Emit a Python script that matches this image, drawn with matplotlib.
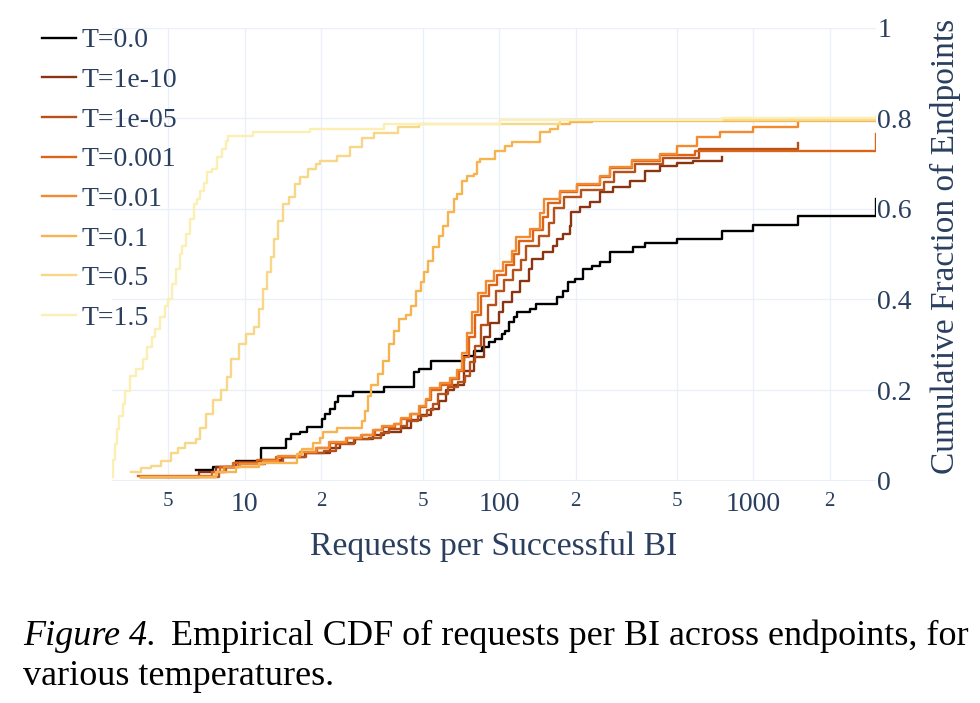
import matplotlib
matplotlib.use("Agg")
import matplotlib.pyplot as plt

plt.rcParams["font.family"] = ["Liberation Serif", "DejaVu Serif"]

# series labels and colours (dark -> light)
labels = ["T=0.0", "T=1e-10", "T=1e-05", "T=0.001", "T=0.01", "T=0.1", "T=0.5", "T=1.5"]
colors = ["#000000", "#8b3412", "#b5511a", "#dc6419", "#f28a30", "#f6b34f", "#f8d888", "#fcefb4"]

# empirical CDF step points (x = requests, y = fraction)
t0_x = [6.44, 7.52, 9.21, 11.58, 14.57, 15.25, 16.41, 17.50, 20.09, 20.6, 21.61, 22.63, 23.26, 26.69, 35.1,
        46.28, 48.44, 54.1, 72.5, 79.5, 85.6, 91.2, 96.4, 102.8, 105.7, 109.6, 114.8, 117.9, 132.9, 139.1,
        169, 179, 187, 199, 214, 232, 250, 273, 337, 376, 502, 755, 1000, 1504, 3040]
t0_y = [0.024, 0.031, 0.044, 0.073, 0.091, 0.102, 0.108, 0.119, 0.135, 0.146, 0.157, 0.173, 0.186, 0.195, 0.206,
        0.239, 0.246, 0.263, 0.274, 0.285, 0.296, 0.305, 0.312, 0.323, 0.330, 0.350, 0.361, 0.372, 0.378, 0.389,
        0.405, 0.418, 0.438, 0.445, 0.467, 0.473, 0.482, 0.504, 0.515, 0.524, 0.533, 0.551, 0.564, 0.584, 0.622]

t1e10_x = [3.9, 6.6, 7.7, 9.2, 11.6, 14.0, 17.2, 21.6, 23.7, 27.2, 31.8, 35.1, 41.1, 45.0, 49.3,
           54.1, 58.2, 62.1, 66.2, 72.5, 79.5, 87.2, 92.1, 100, 103.7, 112.7, 121.2, 131.7, 134.2, 148.4,
           162.6, 169, 179, 190, 192, 208, 228, 250, 281, 328, 376, 430, 502, 580, 755]
t1e10_y = [0.009, 0.020, 0.029, 0.040, 0.046, 0.053, 0.060, 0.071, 0.082, 0.091, 0.100, 0.108, 0.117, 0.133, 0.144,
           0.159, 0.175, 0.201, 0.210, 0.241, 0.272, 0.316, 0.347, 0.372, 0.394, 0.416, 0.440, 0.467, 0.489, 0.504,
           0.518, 0.533, 0.544, 0.562, 0.593, 0.604, 0.615, 0.637, 0.648, 0.662, 0.684, 0.695, 0.701, 0.706, 0.715]

t1e5_x = [3.9, 7.9, 8.4, 9.5, 12.0, 14.1, 17.4, 20.4, 22.9, 26.8, 30.8, 34.3, 37.0, 41.3, 43.6,
          47.8, 51.9, 54.9, 57.4, 62.9, 69.0, 73.5, 77.0, 80.7, 85.2, 90.1, 96.9, 104.2, 113.2, 121.8,
          127.6, 143.7, 157.5, 165.0, 180, 210, 258, 283, 343, 440, 610, 1504]
t1e5_y = [0.009, 0.020, 0.031, 0.036, 0.042, 0.053, 0.060, 0.066, 0.080, 0.091, 0.095, 0.104, 0.115, 0.120, 0.131,
          0.142, 0.155, 0.170, 0.192, 0.206, 0.217, 0.232, 0.261, 0.298, 0.343, 0.387, 0.418, 0.442, 0.465, 0.487,
          0.518, 0.540, 0.568, 0.602, 0.626, 0.642, 0.659, 0.681, 0.699, 0.713, 0.731, 0.745]

t1e3_x = [3.8, 7.4, 8.0, 9.0, 11.2, 13.3, 16.4, 19.2, 21.7, 25.2, 29.0, 32.4, 34.8, 38.9, 41.1,
          45.0, 48.9, 51.7, 54.1, 59.3, 65.0, 69.3, 72.6, 76.0, 80.3, 84.9, 91.3, 98.2, 106.7, 114.8,
          120.2, 135.4, 148.4, 155.4, 174, 203, 250, 273, 334, 430, 591, 3040]
t1e3_y = [0.011, 0.018, 0.029, 0.038, 0.046, 0.053, 0.064, 0.071, 0.084, 0.095, 0.100, 0.111, 0.119, 0.126, 0.137,
          0.146, 0.162, 0.179, 0.199, 0.212, 0.225, 0.241, 0.272, 0.316, 0.365, 0.407, 0.431, 0.454, 0.476, 0.500,
          0.529, 0.553, 0.582, 0.613, 0.637, 0.653, 0.670, 0.690, 0.706, 0.719, 0.728, 0.765]

t1e2_x = [3.9, 7.7, 8.3, 9.6, 11.9, 13.5, 16.4, 19.0, 21.5, 25.0, 28.7, 32.0, 34.5, 38.5, 41.0,
          44.5, 48.5, 51.5, 53.5, 58.5, 64.0, 68.0, 71.5, 74.5, 78.0, 82.5, 89.0, 95.5, 104, 112,
          117, 132, 145, 150, 174, 203, 250, 273, 334, 430, 502, 602, 742, 1000, 1504]
t1e2_y = [0.007, 0.018, 0.029, 0.036, 0.044, 0.055, 0.064, 0.071, 0.086, 0.095, 0.100, 0.111, 0.120, 0.126, 0.139,
          0.148, 0.164, 0.181, 0.205, 0.216, 0.226, 0.245, 0.282, 0.325, 0.372, 0.414, 0.441, 0.462, 0.482, 0.506,
          0.538, 0.556, 0.590, 0.621, 0.640, 0.655, 0.672, 0.692, 0.708, 0.722, 0.739, 0.759, 0.770, 0.781, 0.797]

t01_x = [3.9, 7.7, 9.2, 11.4, 16.0, 16.7, 18.5, 19.7, 20.3, 23.1, 29.0, 29.8, 30.6, 31.2, 33.3,
         34.8, 36.8, 38.5, 40.3, 43.0, 45.0, 47.1, 49.3, 50.7, 52.6, 55.1, 58.2, 60.4, 63.2, 66.2,
         68.0, 71.2, 74.6, 79.5, 81.8, 84.1, 96.4, 105.7, 112.7, 145, 158.8, 170.7, 190.3, 232, 3040]
t01_y = [0.009, 0.018, 0.029, 0.038, 0.058, 0.069, 0.084, 0.095, 0.108, 0.117, 0.131, 0.153, 0.186, 0.212, 0.235,
         0.263, 0.301, 0.330, 0.356, 0.365, 0.385, 0.418, 0.438, 0.460, 0.485, 0.515, 0.540, 0.562, 0.593, 0.622,
         0.633, 0.662, 0.673, 0.677, 0.704, 0.710, 0.728, 0.739, 0.748, 0.770, 0.777, 0.788, 0.792, 0.794, 0.796]

t05_x = [3.55, 3.89, 4.26, 4.67, 5.12, 5.46, 5.82, 6.44, 6.68, 7.06, 7.46, 8.03, 8.48, 8.80, 9.46,
         10.09, 10.86, 11.37, 11.80, 12.24, 12.69, 13.05, 13.54, 14.17, 14.97, 15.68, 16.41, 17.66, 19.0, 19.72,
         23.05, 25.96, 28.99, 32.06, 39.97, 48.44, 174, 3040]
t05_y = [0.018, 0.027, 0.033, 0.044, 0.060, 0.071, 0.082, 0.091, 0.117, 0.146, 0.179, 0.201, 0.228, 0.268, 0.301,
         0.323, 0.338, 0.378, 0.423, 0.460, 0.493, 0.533, 0.573, 0.611, 0.626, 0.655, 0.670, 0.688, 0.699, 0.706,
         0.717, 0.737, 0.757, 0.768, 0.781, 0.788, 0.796, 0.801]

t15_x = [3.0, 3.03, 3.08, 3.15, 3.21, 3.3, 3.39, 3.52, 3.72, 3.96, 4.12, 4.3, 4.42, 4.62, 4.84,
         4.97, 5.16, 5.35, 5.54, 5.64, 5.85, 6.06, 6.29, 6.46, 6.64, 6.88, 7.08, 7.4, 7.8, 8.1,
         8.4, 8.56, 10.8, 18.0, 35.2, 100.9, 755, 3040]
t15_y = [0.007, 0.046, 0.080, 0.113, 0.142, 0.168, 0.197, 0.230, 0.246, 0.268, 0.296, 0.316, 0.334, 0.361, 0.385,
         0.400, 0.434, 0.467, 0.500, 0.518, 0.544, 0.577, 0.611, 0.622, 0.639, 0.657, 0.681, 0.688, 0.715, 0.732,
         0.750, 0.761, 0.770, 0.777, 0.788, 0.796, 0.801, 0.805]

series_x = [t0_x, t1e10_x, t1e5_x, t1e3_x, t1e2_x, t01_x, t05_x, t15_x]
series_y = [t0_y, t1e10_y, t1e5_y, t1e3_y, t1e2_y, t01_y, t05_y, t15_y]

xticks = [5, 10, 20, 50, 100, 200, 500, 1000, 2000]
xtick_labels = ["5", "10", "2", "5", "100", "2", "5", "1000", "2"]
yticks = [0, 0.2, 0.4, 0.6, 0.8, 1.0]
ytick_labels = ["0", "0.2", "0.4", "0.6", "0.8", "1"]

text_color = "#2a3f5f"
grid_color = "#ebf0f8"

fig = plt.figure(figsize=(9.8, 7.03), dpi=100)
ax = fig.add_axes([112 / 980, 1 - 480.6 / 703, 764 / 980, 453 / 703])

for i in range(len(labels)):
    ax.plot(series_x[i], series_y[i], drawstyle="steps-post", color=colors[i],
            lw=1.7, label=labels[i], zorder=3 + i)

ax.set_xscale("log")
ax.set_xlim(3.0, 3040)
ax.set_ylim(0, 1.0)

ax.set_xticks(xticks)
ax.set_xticklabels(xtick_labels)
ax.minorticks_off()
for lab, txt in zip(ax.get_xticklabels(), xtick_labels):
    lab.set_fontsize(20 if txt in ("10", "100", "1000") else 15)
    lab.set_color(text_color)
ax.tick_params(axis="x", length=0, pad=8)

ax.yaxis.tick_right()
ax.set_yticks(yticks)
ax.set_yticklabels(ytick_labels, fontsize=20, color=text_color)
ax.tick_params(axis="y", length=0, pad=1)

ax.grid(True, color=grid_color, lw=1, zorder=0)
ax.axhline(0, color=grid_color, lw=2.2, zorder=1)
ax.set_axisbelow(True)
for sp in ax.spines.values():
    sp.set_visible(False)

fig.text(494 / 980, 1 - 555 / 703, "Requests per Successful BI", ha="center", va="baseline",
         fontsize=24.2, color=text_color)
fig.text(945 / 980, 1 - 246 / 703, "Cumulative Fraction of Endpoints", ha="center", va="center",
         rotation=90, fontsize=24, color=text_color)

leg = fig.legend(loc="upper left", bbox_to_anchor=(42 / 980, 1 - 28 / 703), frameon=False,
                 fontsize=20, handlelength=1.22, handletextpad=0.22, labelspacing=0.51,
                 borderpad=0, borderaxespad=0)
for t in leg.get_texts():
    t.set_color(text_color)

# caption
cap1 = fig.text(23 / 980, 1 - 645 / 703, "Figure 4.", fontsize=26, style="italic", va="baseline")
fig.canvas.draw()
bb = cap1.get_window_extent()
fig.text((bb.x1 + 15) / 980, 1 - 645 / 703,
         "Empirical CDF of requests per BI across endpoints, for", fontsize=26, va="baseline")
fig.text(23 / 980, 1 - 685 / 703, "various temperatures.", fontsize=26, va="baseline")

fig.savefig("out.png", dpi=100)
